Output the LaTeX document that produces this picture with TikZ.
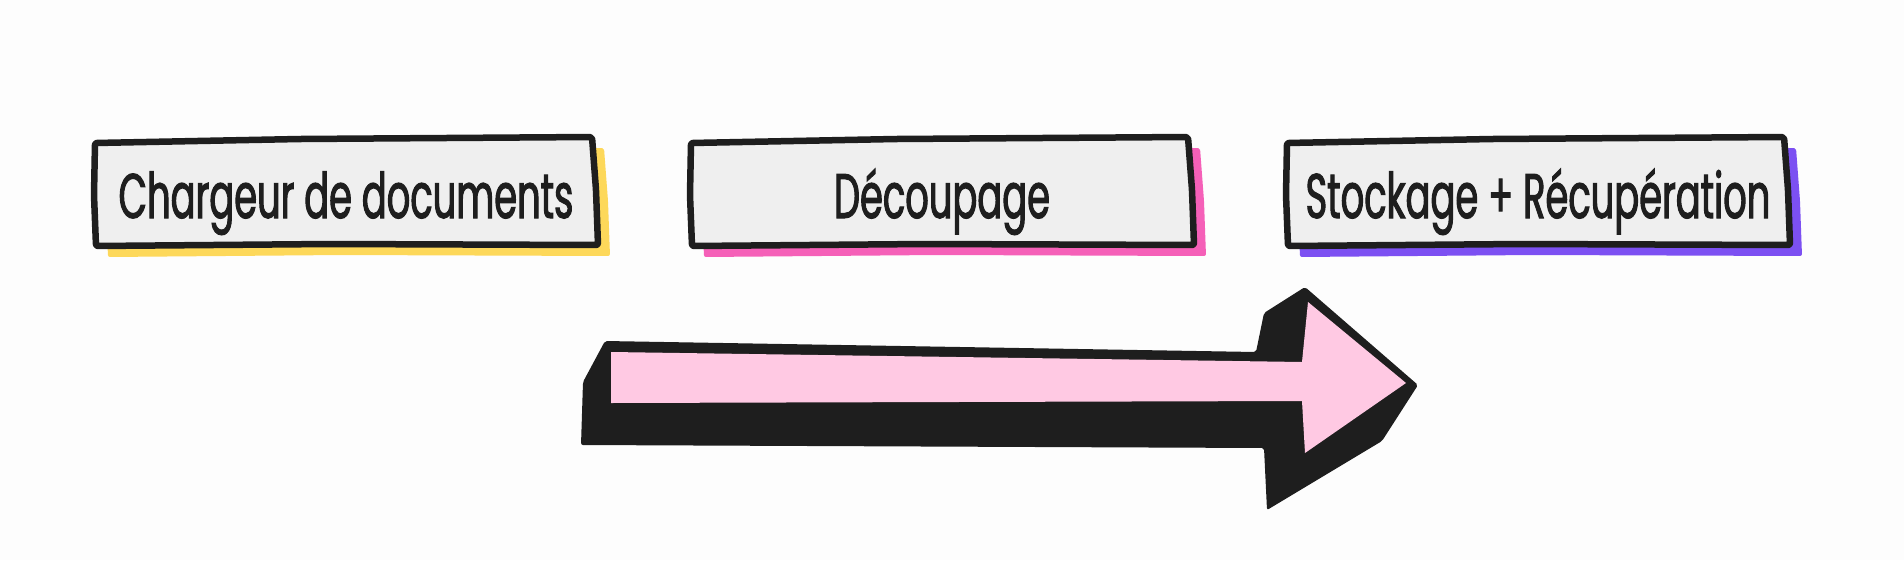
\documentclass[tikz,border=0pt]{standalone}
\usepackage{fontspec}
\newfontfamily\handfont{Poppins}[FakeStretch=0.585,FakeBold=1.6]
\definecolor{ink}{HTML}{1E1E1E}
\definecolor{boxgray}{HTML}{EFEFEF}
\definecolor{bgc}{HTML}{FDFDFD}
\definecolor{shyellow}{HTML}{FDD85A}
\definecolor{shpink}{HTML}{F560B8}
\definecolor{shpurple}{HTML}{7C50F2}
\definecolor{arrowpink}{HTML}{FFC9E3}
\begin{document}
\begin{tikzpicture}[x=1pt,y=-1pt,
  boxline/.style={draw=ink,line width=6.5pt,line join=round,fill=boxgray,rounded corners=2pt},
  shadowfill/.style={fill=#1,rounded corners=2pt},
  steplabel/.style={font=\handfont\fontsize{63}{63}\selectfont,text=ink,inner sep=0pt,anchor=base}]
\fill[bgc] (0,0) rectangle (1904,560);
\useasboundingbox (0,0) rectangle (1904,560);
% boxes
\foreach \dx/\col in {0/shyellow,596/shpink,1192/shpurple}{
  \begin{scope}[shift={(\dx,0)}]
    \fill[shadowfill=\col,shift={(12,11)}] (95,143) -- (300,139) -- (592,137) -- (596,190) -- (598,245) -- (330,244) -- (96,246) -- (94,195) -- cycle;
    \path[boxline] (95,143) -- (300,139) -- (592,137) -- (596,190) -- (598,245) -- (330,244) -- (96,246) -- (94,195) -- cycle;
  \end{scope}
}
\node[steplabel] (t1) at (346,218) {Chargeur de documents};
\node[steplabel] (t2) at (942,218) {Découpage};
\node[steplabel] (t3) at (1538,218) {Stockage + Récupération};
% arrow
\fill[ink,rounded corners=2pt] (605,341) -- (1256,352) -- (1264,313) -- (1305,287) -- (1418,385) -- (1382,441) -- (1267,510) -- (1264,448) -- (581,445) -- (583,382) -- cycle;
\fill[arrowpink] (611,352) -- (1302,362) -- (1308,302) -- (1406,383) -- (1305,453) -- (1302,401) -- (611,403) -- cycle;
\end{tikzpicture}
\end{document}
